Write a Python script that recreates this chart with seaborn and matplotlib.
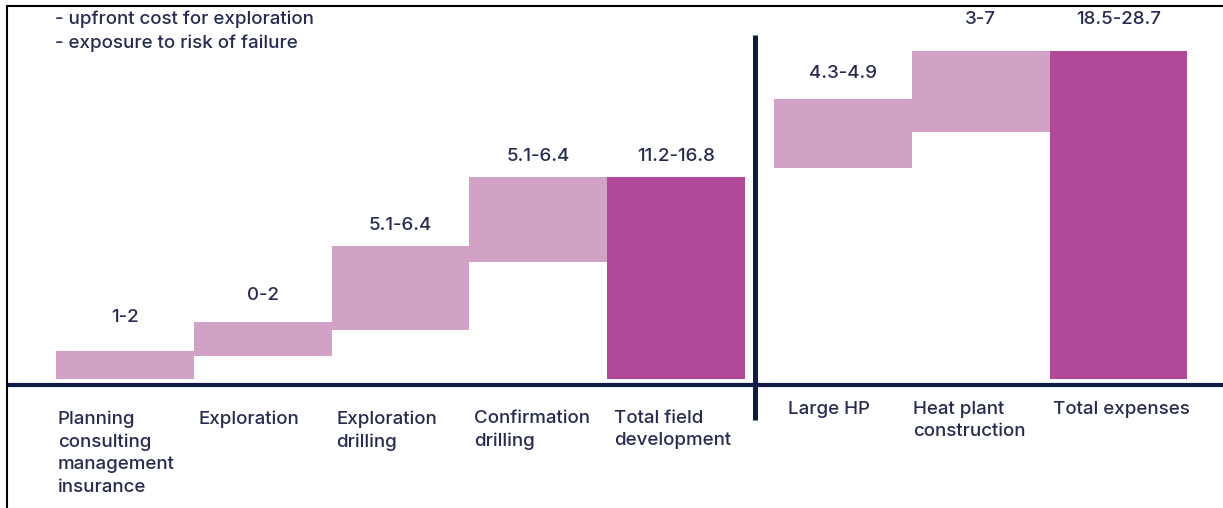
import numpy as np
import pandas as pd
import matplotlib
matplotlib.use("Agg")
import matplotlib.pyplot as plt
from matplotlib.lines import Line2D
import seaborn as sns

# ---- data -------------------------------------------------------------
stages = [
    "Planning\nconsulting\nmanagement\ninsurance",
    "Exploration",
    "Exploration\ndrilling",
    "Confirmation\ndrilling",
    "Total field\ndevelopment",
    "Large HP",
    "Heat plant\nconstruction",
    "Total expenses",
]
cost_ranges = ["1-2", "0-2", "5.1-6.4", "5.1-6.4", "11.2-16.8", "4.3-4.9", "3-7", "18.5-28.7"]
bar_low = [0.0, 1.6, 3.4, 8.1, 0.0, 14.65, 17.15, 0.0]
bar_high = [1.95, 3.95, 9.25, 14.0, 14.0, 19.45, 22.8, 22.8]
is_total = [False, False, False, False, True, False, False, True]
panel = [0, 0, 0, 0, 0, 1, 1, 1]
notes = ["- upfront cost for exploration", "- exposure to risk of failure"]

# ---- style ------------------------------------------------------------
LIGHT = "#d1a2c6"
DARK = "#b04a98"
NAVY = "#0f1a45"
TEXT = "#272b4f"
FS = 13.5
WEIGHT = 500

sns.set_theme(style="white")
plt.rcParams["font.family"] = ["Inter", "DejaVu Sans"]

W, H = 1223, 508
PX_X = 137.8   # pixels per bar slot
PX_Y = 14.4    # pixels per value unit
BASE_PX = 379  # baseline row, from the top
PANEL_GAP = 0.21

def y_from_px(p):
    return (BASE_PX - p) / PX_Y

df = pd.DataFrame({
    "stage": stages,
    "low": bar_low,
    "high": bar_high,
    "total": is_total,
    "panel": panel,
})
df["pos"] = np.arange(len(df)) + df["panel"] * PANEL_GAP
df["span"] = df["high"] - df["low"]

fig = plt.figure(figsize=(W / 100, H / 100), dpi=100)
ax = fig.add_axes([0, 0, 1, 1])

sns.barplot(data=df, x="pos", y="span", native_scale=True, width=1.0,
            bottom=df["low"].to_numpy(), color=LIGHT, saturation=1,
            linewidth=0, errorbar=None, ax=ax)
for patch, total in zip(ax.patches, df["total"]):
    if total:
        patch.set_facecolor(DARK)

x0 = -0.5 - 56 / PX_X
ax.set_xlim(x0, x0 + W / PX_X)
y0 = y_from_px(H)
ax.set_ylim(y0, y0 + H / PX_Y)
ax.axis("off")

# baseline and panel divider
ax.axhline(y_from_px(385), xmin=7 / W, xmax=1, color=NAVY, lw=3.0,
           solid_capstyle="butt")
divider_x = 4.57
ax.plot([divider_x, divider_x], [y_from_px(35), y_from_px(420)], color=NAVY,
        lw=3.6, solid_capstyle="butt")

# range labels above the bars
label_gap_px = [33, 27, 20, 21, 21, 25, 31, 31]
for pos, high, txt, gap in zip(df["pos"], df["high"], cost_ranges, label_gap_px):
    ax.text(pos, high + gap / PX_Y, txt, ha="center", va="center",
            fontsize=FS, fontweight=WEIGHT, color=TEXT)

# stage names under the baseline
name_dx_px = [2, 5, 5, 5, 7, 14, 1, 3]
for pos, name, pnl, dx in zip(df["pos"], df["stage"], df["panel"], name_dx_px):
    top_px = 410 if pnl == 0 else 401
    ax.text(pos - 0.5 + dx / PX_X, y_from_px(top_px), name, ha="left", va="top",
            fontsize=FS, fontweight=WEIGHT, color=TEXT, linespacing=1.42)

# notes in the upper left
for i, note in enumerate(notes):
    fig.text(55 / W, 1 - (19 + 24 * i) / H, note, ha="left", va="center",
             fontsize=FS, fontweight=WEIGHT, color=TEXT)

# frame on the left and top
fig.add_artist(Line2D([7 / W, 7 / W], [0, 1 - 6 / H], transform=fig.transFigure,
                      color="black", lw=1.5))
fig.add_artist(Line2D([7 / W, 1], [1 - 6 / H, 1 - 6 / H], transform=fig.transFigure,
                      color="black", lw=1.5))

fig.savefig("out.png", dpi=100)
